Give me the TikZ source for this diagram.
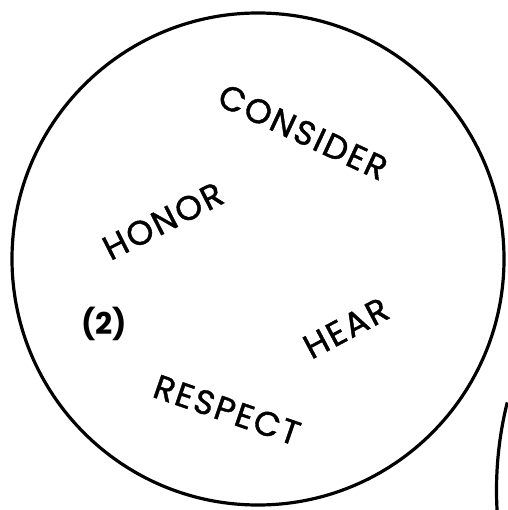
\documentclass[tikz,border=0pt]{standalone}
\usepackage{fontspec}
\setmainfont{Poppins}
\newfontfamily\wordfont[LetterSpace=6,FakeBold=1.2]{Poppins}
\begin{document}
\begin{tikzpicture}[x=1pt,y=-1pt,
  ring/.style={line width=3.2pt, draw=black},
  word/.style={font=\wordfont\fontsize{34}{38}\selectfont, inner sep=0pt, anchor=center},
  num/.style={font=\fontsize{30}{34}\selectfont\bfseries, inner sep=0pt, anchor=center}]
\useasboundingbox (0,0) rectangle (507,510);
\fill[white] (0,0) rectangle (507,510);
\node[ring, circle, minimum size=492pt, inner sep=0pt] (big) at (258,259) {};
\coordinate (c2) at (858.5,490);
\draw[ring] (c2) ++(194:362) arc[start angle=194, end angle=174, radius=362];
\node[word, rotate=-25] (consider) at (303,132) {CONSIDER};
\node[word, rotate=27] (honor) at (163,221) {HONOR};
\node[num] (two) at (104,324) {(2)};
\node[word, rotate=28] (hear) at (346,328) {HEAR};
\node[word, rotate=-19] (respect) at (227,410) {RESPECT};
\end{tikzpicture}
\end{document}
